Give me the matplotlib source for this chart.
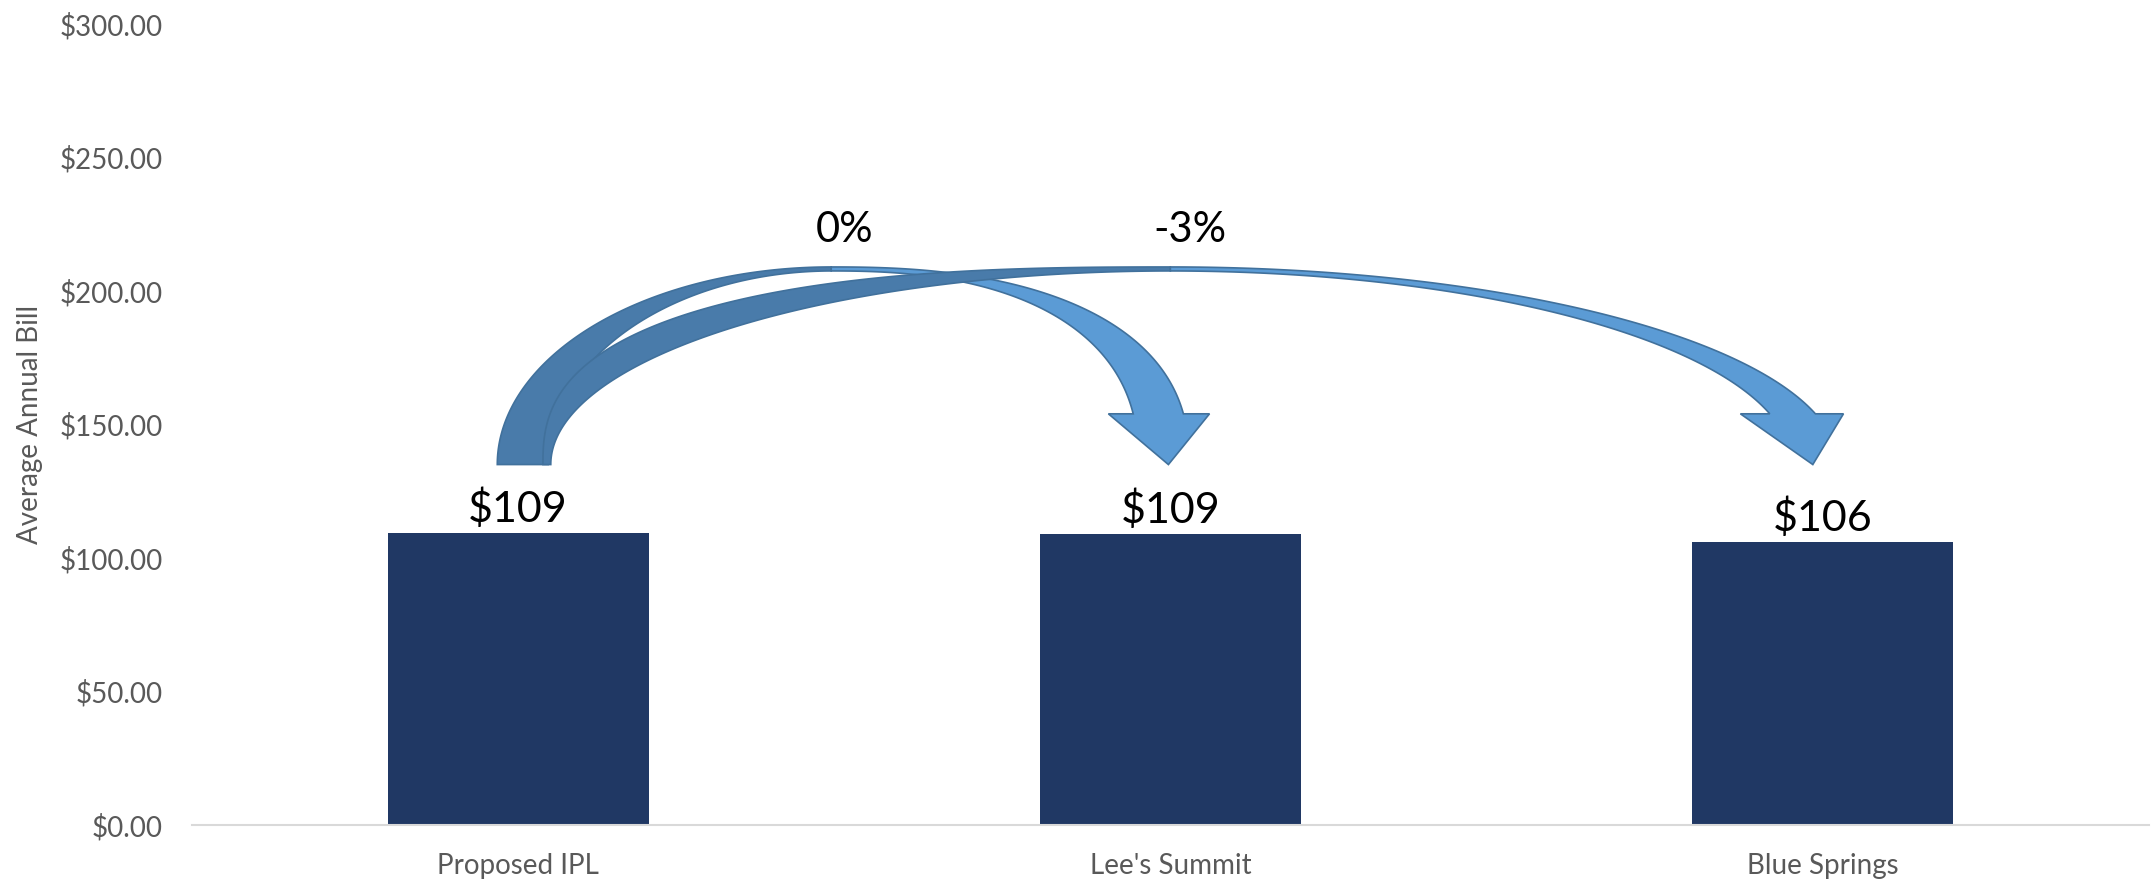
import numpy as np
import matplotlib.pyplot as plt
from matplotlib.patches import Polygon
from matplotlib.ticker import FuncFormatter

# chart data
categories = ["Proposed IPL", "Lee's Summit", "Blue Springs"]
bills = [109.4, 109.1, 106.0]
bill_labels = ["$109", "$109", "$106"]
change_labels = ["0%", "-3%"]
yticks = [0, 50, 100, 150, 200, 250, 300]

plt.rcParams['font.family'] = ['Lato', 'DejaVu Sans']

fig = plt.figure(figsize=(21.53, 8.84), dpi=100)
ax = fig.add_axes([0.0892, 0.0667, 0.9088, 0.9062])

x = np.arange(len(categories))
ax.bar(x, bills, width=0.4, color='#203864', zorder=2)

for xi, v, lab in zip(x, bills, bill_labels):
    ax.annotate(lab, (xi, v), xytext=(0, 3), textcoords='offset points',
                ha='center', va='bottom', fontsize=31, color='black')


def edge(xl, xp, xr, yb, yh, yp, nl, nr):
    ''' one edge of a curved arrow: left quarter (base -> peak), right quarter (peak -> head) '''
    t = np.linspace(0, np.pi / 2, 120)
    lx = xp - (xp - xl) * np.cos(t) ** (2 / nl)
    ly = yb + (yp - yb) * np.sin(t) ** (2 / nl)
    s_end = (yh - yb) / (yp - yb)
    t_end = np.arcsin(s_end ** (nr / 2))
    ar = (xr - xp) / (1 - s_end ** nr) ** (1 / nr)
    t2 = np.linspace(np.pi / 2, t_end, 120)
    rx = xp + ar * np.abs(np.cos(t2)) ** (2 / nr)
    ry = yb + (yp - yb) * np.sin(t2) ** (2 / nr)
    return np.column_stack([lx, ly]), np.column_stack([rx, ry])


def curved_arrow(x0, x1, peak_frac, left_o, left_i, right_o, right_i,
                 head_l, head_r, tip, n_o, n_i, z):
    yb, yh, yp_o, yp_i = 135, 154, 209, 207.5
    xp = x0 + peak_frac * (x1 - x0)
    ol, orr = edge(x0 + left_o, xp, x1 + right_o, yb, yh, yp_o, n_o[0], n_o[1])
    il, ir = edge(x0 + left_i, xp, x1 + right_i, yb, yh, yp_i, n_i[0], n_i[1])
    back = np.vstack([ol, il[::-1]])
    head = np.array([[x1 + head_r, yh], [x1 + tip, yb], [x1 + head_l, yh]])
    front = np.vstack([orr, head, ir[::-1]])
    ax.add_patch(Polygon(back, closed=True, fc='#497BAA', ec='#41719C', lw=1.2, zorder=z))
    ax.add_patch(Polygon(front, closed=True, fc='#5B9BD5', ec='#41719C', lw=1.2, zorder=z))


curved_arrow(0, 1, 0.48, -0.032, 0.046, 0.020, -0.057, -0.095, 0.060, -0.003,
             (2.0, 2.4), (2.0, 2.4), 3)
curved_arrow(0, 2, 0.50, 0.038, 0.050, -0.011, -0.081, -0.126, 0.032, -0.015,
             (2.6, 2.0), (2.0, 2.0), 4)

ax.text(0.5, 223, change_labels[0], ha='center', va='center', fontsize=30, color='black')
ax.text(1.03, 223, change_labels[1], ha='center', va='center', fontsize=30, color='black')

ax.set_xlim(-0.5, 2.5)
ax.set_ylim(0, 300)
ax.set_yticks(yticks)
ax.yaxis.set_major_formatter(FuncFormatter(lambda v, p: "${:,.2f}".format(v)))
ax.set_xticks(x)
ax.set_xticklabels(categories)
ax.tick_params(axis='y', length=0, pad=21, labelsize=20, labelcolor='#595959')
ax.tick_params(axis='x', length=0, pad=20, labelsize=20, labelcolor='#595959')

for s in ['top', 'right', 'left']:
    ax.spines[s].set_visible(False)
ax.spines['bottom'].set_color('#D9D9D9')
ax.spines['bottom'].set_linewidth(1.5)

ax.set_ylabel("Average Annual Bill", fontsize=20, color='#595959')
ax.yaxis.set_label_coords(-0.076, 0.5)

fig.savefig("out.png", dpi=100)
